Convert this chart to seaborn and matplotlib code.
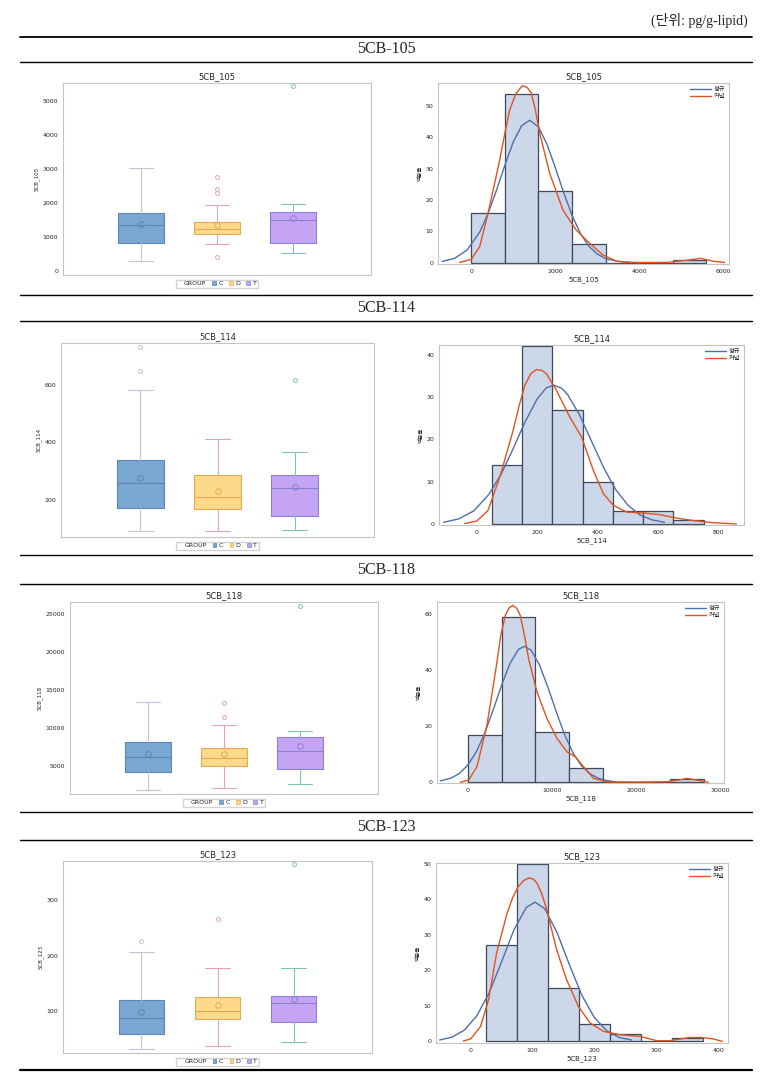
import numpy as np
import matplotlib
matplotlib.use("Agg")
import matplotlib.pyplot as plt
from matplotlib.lines import Line2D
from matplotlib.patches import Patch
import seaborn as sns

sns.set_style("white")
plt.rcParams['font.family'] = ['DejaVu Sans', 'Noto Sans CJK KR']

W, H = 784, 1074

groups = ['C', 'D', 'T']
box_fill = ['#7aa6d2', '#fdd98b', '#c5a5f3']
box_edge = ['#5b84b8', '#e3a954', '#8c7fd6']
whisk_col = ['#c9c2da', '#e3a4b0', '#7fc4b4']

# ---- box plot summaries: whislo, q1, median, q3, whishi, mean ----
box_105 = [[275, 804, 1333, 1696, 3010, 1373],
           [775, 1088, 1216, 1422, 1922, 1353],
           [510, 804, 1480, 1735, 1961, 1549]]
out_105 = [[], [2765, 2410, 2290, 392], [5431]]

box_114 = [[90, 171, 259, 337, 582, 276],
           [90, 168, 209, 286, 411, 231],
           [95, 144, 242, 286, 366, 245]]
out_114 = [[649, 734], [], [617]]

box_118 = [[1828, 4207, 6145, 8040, 13326, 6454],
           [2093, 5000, 5925, 7335, 10286, 6498],
           [2621, 4604, 6894, 8700, 9537, 7555]]
out_118 = [[], [11344, 13282], [26013]]

box_123 = [[33, 59, 87, 120, 206, 98],
           [37, 86, 100, 125, 178, 111],
           [45, 80, 115, 127, 178, 122]]
out_123 = [[227], [266], [364]]

# ---- histograms (percent) ----
edges_105 = [0, 800, 1600, 2400, 3200, 4000, 4800, 5600]
pct_105 = [16, 54, 23, 6, 0, 0, 1]
norm_x_105 = [-700, -400, -100, 200, 400, 600, 800, 1000, 1200, 1390, 1600, 1800,
              2000, 2200, 2400, 2600, 2800, 3000, 3200, 3500, 3800]
norm_y_105 = [0.4, 1.4, 4.1, 9.8, 15.8, 23.2, 31.2, 38.6, 43.8, 45.5, 43.4, 37.9,
              30.4, 22.4, 15.1, 9.3, 5.3, 2.8, 1.3, 0.4, 0.1]
kern_x_105 = [-278, 0, 198, 397, 540, 675, 800, 913, 1060, 1215, 1330, 1429, 1530,
              1628, 1866, 2183, 2501, 2819, 3136, 3454, 3850, 4645, 5200, 5463, 5757, 6034]
kern_y_105 = [0.1, 1.1, 5.1, 15.8, 24.5, 32.8, 41.5, 48.8, 54.0, 56.5, 56.0, 54.2, 48.5,
              41.4, 28.6, 16.8, 10.4, 6.2, 2.5, 0.5, 0.1, 0.1, 0.9, 1.4, 0.5, 0.1]

edges_114 = [50, 150, 250, 350, 450, 550, 650, 750]
pct_114 = [14, 42, 27, 10, 3, 3, 1]
norm_x_114 = [-110, -60, -10, 40, 80, 120, 160, 200, 230, 255, 280, 300, 340, 380, 420,
              460, 500, 540, 580, 620]
norm_y_114 = [0.4, 1.2, 3.1, 7.0, 11.7, 17.8, 24.2, 29.6, 32.2, 32.8, 32.1, 30.6, 25.7, 19.4,
              13.2, 8.0, 4.4, 2.1, 0.95, 0.4]
kern_x_114 = [-40, 0, 37, 76, 120, 140, 159, 178, 197, 215, 230, 263, 307, 346, 385, 418,
              451, 496, 550, 605, 660, 715, 781, 858]
kern_y_114 = [0.1, 0.7, 3.2, 11.1, 22.1, 28.0, 32.8, 35.5, 36.5, 36.3, 35.5, 31.6, 25.3,
              20.6, 12.7, 7.2, 4.4, 2.8, 2.6, 2.2, 1.4, 0.8, 0.3, 0.0]

edges_118 = [0, 4000, 8000, 12000, 16000, 20000, 24000, 28000]
pct_118 = [17, 59, 18, 5, 0, 0, 1]
norm_x_118 = [-3300, -2000, -1000, 0, 1000, 2000, 3000, 4000, 5000, 6000, 6700,
              7500, 8500, 9500, 10500, 11500, 12500, 13500, 14500, 15500, 16500, 17500]
norm_y_118 = [0.5, 1.5, 3.2, 6.2, 10.9, 17.6, 25.9, 34.7, 42.5, 47.4, 48.5,
              47.1, 41.8, 33.8, 25.0, 16.8, 10.3, 5.8, 3.0, 1.4, 0.6, 0.2]
kern_x_118 = [-910, 80, 1068, 2254, 2850, 3440, 3900, 4429, 4900, 5338, 5800, 6208, 6700,
              7196, 8185, 9371, 10557, 11743, 12732, 13720, 14906, 16488, 19652, 23607,
              25188, 25980, 27166, 28550]
kern_y_118 = [0.0, 0.8, 5.6, 20.4, 31.5, 42.9, 52.5, 59.5, 62.3, 63.1, 62.0, 59.5, 52.5,
              44.1, 32.3, 22.8, 15.7, 10.9, 9.1, 5.6, 1.4, 0.2, 0.1, 0.2, 0.9, 1.4, 0.8, 0.0]

edges_123 = [25, 75, 125, 175, 225, 275, 325, 375]
pct_123 = [27, 50, 15, 5, 2, 0, 1]
norm_x_123 = [-50, -30, -10, 10, 30, 50, 70, 90, 104, 120, 140, 160, 180, 200,
              220, 240, 260]
norm_y_123 = [0.4, 1.2, 3.2, 7.2, 13.7, 22.4, 31.4, 37.7, 39.2, 37.3, 30.5, 21.4,
              12.9, 6.7, 3.0, 1.1, 0.4]
kern_x_123 = [-12, 0, 16, 29, 42, 59, 68, 77, 86, 94, 101, 107, 115, 123, 139, 155, 174,
              193, 215, 241, 274, 301, 322, 354, 373, 392, 407]
kern_y_123 = [0.1, 0.7, 4.2, 11.7, 24.9, 36.1, 40.5, 43.6, 45.3, 46.0, 45.7, 44.6, 41.5,
              37.1, 25.8, 17.4, 9.9, 5.2, 2.8, 1.9, 1.4, 0.2, 0.2, 1.1, 1.1, 0.7, 0.0]

fig = plt.figure(figsize=(W / 100, H / 100), dpi=100)


def rect(x0, y0, x1, y1):
    return [x0 / W, 1 - y1 / H, (x1 - x0) / W, (y1 - y0) / H]


def style_axes(ax, title):
    for s in ax.spines.values():
        s.set_color('#c4c4c4')
        s.set_linewidth(0.8)
    ax.tick_params(labelsize=4.5, length=2, width=0.5, color='#888888', pad=1.5)
    ax.set_title(title, fontsize=6, pad=3)


def box_panel(pos, name, rows, outs, ylim, yticks):
    ax = fig.add_axes(rect(*pos))
    for i in range(3):
        lo, q1, med, q3, hi, mean = rows[i]
        st = [dict(whislo=lo, q1=q1, med=med, q3=q3, whishi=hi, mean=mean, fliers=outs[i])]
        ax.bxp(st, positions=[i], widths=0.6, showmeans=True, patch_artist=True,
               capwidths=0.32, manage_ticks=False,
               boxprops=dict(facecolor=box_fill[i], edgecolor=box_edge[i], linewidth=0.8),
               medianprops=dict(color=box_edge[i], linewidth=0.8),
               whiskerprops=dict(color=whisk_col[i], linewidth=0.8),
               capprops=dict(color=whisk_col[i], linewidth=0.8),
               meanprops=dict(marker='o', markerfacecolor='none', markeredgecolor=box_edge[i],
                              markersize=4, markeredgewidth=0.7),
               flierprops=dict(marker='o', markerfacecolor='none', markeredgecolor=whisk_col[i],
                               markersize=2.8, markeredgewidth=0.7))
    ax.set_xlim(-1.03, 3.03)
    ax.set_ylim(*ylim)
    ax.set_xticks([])
    ax.set_yticks(yticks)
    ax.set_ylabel(name, fontsize=4, labelpad=2)
    style_axes(ax, name)
    handles = [Patch(facecolor='none', edgecolor='none')] + \
        [Patch(facecolor=box_fill[i], edgecolor=box_edge[i], linewidth=0.5) for i in range(3)]
    ax.legend(handles, ['GROUP'] + groups, loc='upper center', bbox_to_anchor=(0.5, -0.008),
              ncol=4, fontsize=4.5, frameon=True, fancybox=False, edgecolor='#c8c8c8',
              handlelength=0.6, handleheight=0.6, handletextpad=0.4, columnspacing=1.0,
              borderpad=0.25)
    return ax


def hist_panel(pos, name, edges, pct, nx, ny, kx, ky, xlim, ylim, xticks, yticks):
    ax = fig.add_axes(rect(*pos))
    e = np.array(edges, dtype=float)
    centers = (e[:-1] + e[1:]) / 2
    sns.histplot(x=centers, weights=pct, bins=edges, ax=ax, color='#ccd7ea',
                 edgecolor='#3d4858', linewidth=0.9, alpha=1)
    sns.lineplot(x=nx, y=ny, ax=ax, color='#4f6fa6', linewidth=1.0, label='정규',
                 sort=False, estimator=None)
    sns.lineplot(x=kx, y=ky, ax=ax, color='#e0531f', linewidth=1.0, label='커널',
                 sort=False, estimator=None)
    ax.set_xlim(*xlim)
    ax.set_ylim(*ylim)
    ax.set_xticks(xticks)
    ax.set_yticks(yticks)
    ax.set_xlabel(name, fontsize=5, labelpad=2)
    ax.set_ylabel('백분율', fontsize=4, labelpad=2)
    style_axes(ax, name)
    ax.legend(loc='upper right', fontsize=4.5, frameon=False, handlelength=3.3,
              handletextpad=0.5, borderaxespad=0.2, labelspacing=0.2)
    return ax


box_panel((63, 83, 371, 275), '5CB_105', box_105, out_105, (-126, 5520), range(0, 5001, 1000))
hist_panel((438, 83, 729, 264), '5CB_105', edges_105, pct_105, norm_x_105, norm_y_105,
           kern_x_105, kern_y_105, (-795, 6140), (-0.4, 57.4), [0, 2000, 4000, 6000],
           [0, 10, 20, 30, 40, 50])

box_panel((61, 343, 374, 537), '5CB_114', box_114, out_114, (70, 747), [200, 400, 600])
hist_panel((439, 345, 744, 525), '5CB_114', edges_114, pct_114, norm_x_114, norm_y_114,
           kern_x_114, kern_y_114, (-125, 883), (-0.24, 42.3), [0, 200, 400, 600, 800],
           [0, 10, 20, 30, 40])

box_panel((70, 602, 378, 794), '5CB_118', box_118, out_118, (1247, 26546),
          range(5000, 25001, 5000))
hist_panel((437, 602, 724, 783), '5CB_118', edges_118, pct_118, norm_x_118, norm_y_118,
           kern_x_118, kern_y_118, (-3680, 30400), (-0.25, 64.3), [0, 10000, 20000, 30000],
           [0, 20, 40, 60])

box_panel((63, 861, 372, 1053), '5CB_123', box_123, out_123, (25, 370), [100, 200, 300])
hist_panel((436, 863, 728, 1043), '5CB_123', edges_123, pct_123, norm_x_123, norm_y_123,
           kern_x_123, kern_y_123, (-56, 416), (-0.45, 50.2), [0, 100, 200, 300, 400],
           [0, 10, 20, 30, 40, 50])

# document frame: rules and section headings
for yy, lw in [(37, 1.3), (62, 1.0), (295, 1.0), (321, 1.0), (555, 1.0), (584, 1.0),
               (812, 1.0), (840, 1.0), (1070, 1.6)]:
    fig.add_artist(Line2D([20 / W, 752 / W], [1 - yy / H, 1 - yy / H], color='black', lw=lw))

serif = ['Liberation Serif', 'Noto Sans CJK KR']
for label, yy in [('5CB-105', 49), ('5CB-114', 308), ('5CB-118', 570), ('5CB-123', 827)]:
    fig.text(386 / W, 1 - yy / H, label, ha='center', va='center', fontsize=11.5, family=serif)
fig.text(748 / W, 1 - 20 / H, '(단위: pg/g-lipid)', ha='right', va='center', fontsize=10,
         family=serif)

fig.savefig('out.png', dpi=100)
